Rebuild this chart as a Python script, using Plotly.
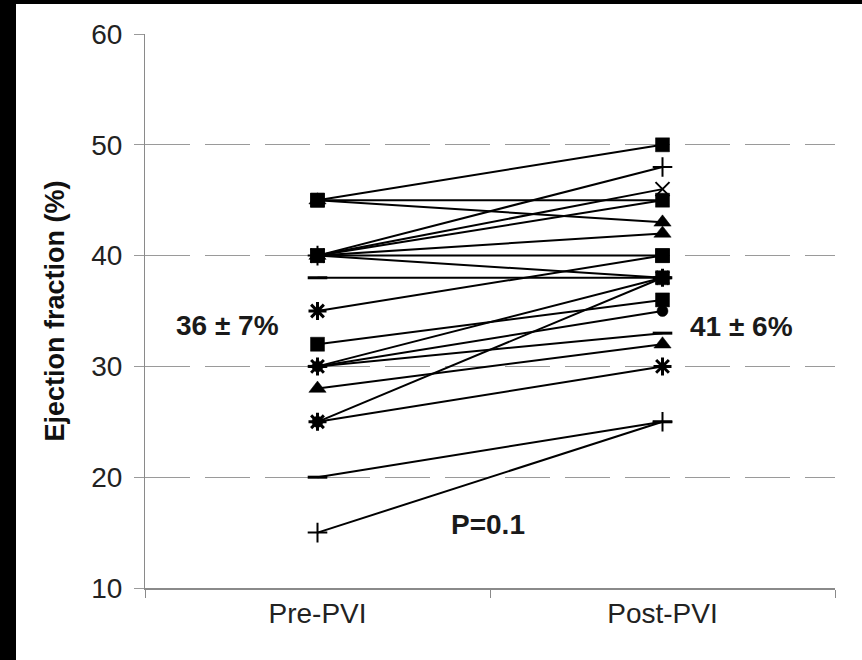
import plotly.graph_objects as go

# ---- data ----
categories = ["Pre-PVI", "Post-PVI"]
pre_values = [45, 45, 45, 40, 40, 40, 40, 40, 40, 38, 35, 32, 30, 30, 30, 28, 25, 25, 20, 15]
post_values = [50, 45, 43, 48, 46, 45, 42, 40, 38, 38, 40, 36, 38, 35, 33, 32, 38, 30, 25, 25]
pre_symbols = ["square", "square", "triangle-up", "cross-thin", "x-thin", "circle", "triangle-up",
               "square", "square", "line-ew", "asterisk", "square", "asterisk", "circle",
               "line-ew", "triangle-up", "circle", "asterisk", "line-ew", "cross-thin"]
post_symbols = ["square", "square", "triangle-up", "cross-thin", "x-thin", "circle", "triangle-up",
                "square", "square", "line-ew", "square", "square", "asterisk", "circle",
                "line-ew", "triangle-up", "circle", "asterisk", "line-ew", "cross-thin"]
y_ticks = [10, 20, 30, 40, 50, 60]
pre_label = "36 \u00b1 7%"
post_label = "41 \u00b1 6%"
p_label = "P=0.1"

FONT = "Liberation Sans, Arial, sans-serif"

def msize(s):
    return {"square": 14, "triangle-up": 15, "circle": 11, "cross-thin": 14, "x-thin": 14,
            "asterisk": 15, "line-ew": 14}.get(s, 12)

def mlw(s):
    return {"square": 0.5, "triangle-up": 0.5, "circle": 0.5, "cross-thin": 2, "x-thin": 2,
            "asterisk": 3, "line-ew": 3}.get(s, 1)

fig = go.Figure()
# draw squares last so they sit on top
order = sorted(range(len(pre_values)),
               key=lambda i: (pre_symbols[i] == "square") + (post_symbols[i] == "square"))
for i in order:
    syms = [pre_symbols[i], post_symbols[i]]
    fig.add_trace(go.Scatter(
        x=categories, y=[pre_values[i], post_values[i]],
        mode="lines+markers",
        line=dict(color="#000000", width=2),
        marker=dict(symbol=syms, size=[msize(s) for s in syms], color="#000000", opacity=1,
                    line=dict(color="#000000", width=[mlw(s) for s in syms])),
        showlegend=False, hoverinfo="skip",
    ))

ann_font = dict(family=FONT, size=28, color="#1a1a1a", weight="bold")
fig.add_annotation(x=0.12, y=33.7, xref="paper", yref="y", text=pre_label, showarrow=False,
                   xanchor="center", yanchor="middle", font=ann_font)
fig.add_annotation(x=0.865, y=33.6, xref="paper", yref="y", text=post_label, showarrow=False,
                   xanchor="center", yanchor="middle", font=ann_font)
fig.add_annotation(x=0.497, y=15.7, xref="paper", yref="y", text=p_label, showarrow=False,
                   xanchor="center", yanchor="middle", font=ann_font)

# black scan borders (left and top)
L, R, T, B, W, H = 145, 27, 34, 72, 862, 660
pw, ph = W - L - R, H - T - B
def px_x(p):
    return (p - L) / pw
def px_y(p):
    return (H - B - p) / ph
fig.add_shape(type="rect", xref="paper", yref="paper", x0=px_x(0), x1=px_x(16),
              y0=px_y(H), y1=px_y(0), fillcolor="black", line_width=0, layer="above")
fig.add_shape(type="rect", xref="paper", yref="paper", x0=px_x(0), x1=px_x(W),
              y0=px_y(4), y1=px_y(0), fillcolor="black", line_width=0, layer="above")

fig.update_layout(
    width=W, height=H,
    margin=dict(l=L, r=R, t=T, b=B),
    paper_bgcolor="white", plot_bgcolor="white",
    font=dict(family=FONT, color="#222222"),
    xaxis=dict(type="category", range=[-0.5, 1.5], showgrid=False,
               showline=True, linecolor="#8a8a8a", linewidth=1.5,
               ticks="outside", tickson="boundaries", ticklen=8, tickcolor="#8a8a8a",
               tickfont=dict(family=FONT, size=28, color="#222222")),
    yaxis=dict(range=[10, 60], tickvals=y_ticks, showgrid=True, gridcolor="#9a9a9a",
               gridwidth=1.3, griddash="45px,15px", zeroline=False,
               showline=True, linecolor="#8a8a8a", linewidth=1.2,
               ticks="outside", ticklen=10, tickcolor="#9a9a9a", ticklabelstandoff=6,
               tickfont=dict(family=FONT, size=28, color="#222222"),
               title=dict(text="Ejection fraction (%)", standoff=18,
                          font=dict(family=FONT, size=27, color="#111111", weight="bold"))),
)

fig.write_html("out.html")
